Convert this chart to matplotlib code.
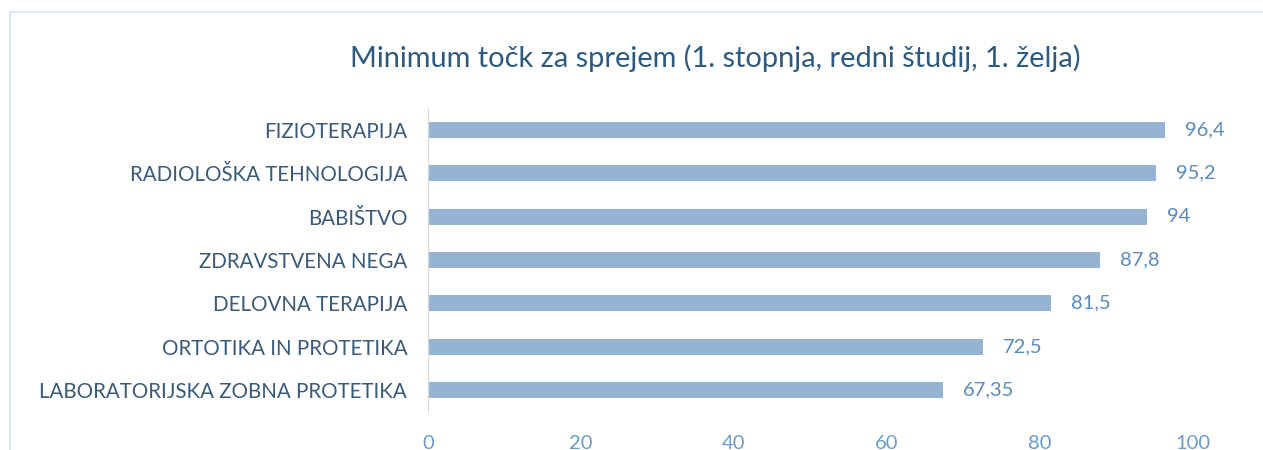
import matplotlib.pyplot as plt
from matplotlib.patches import Rectangle

#-------------------------------------------------------------------------------
# data
programmes = ['FIZIOTERAPIJA', 'RADIOLOŠKA TEHNOLOGIJA', 'BABIŠTVO', 'ZDRAVSTVENA NEGA',
              'DELOVNA TERAPIJA', 'ORTOTIKA IN PROTETIKA', 'LABORATORIJSKA ZOBNA PROTETIKA']
min_points = [96.4, 95.2, 94, 87.8, 81.5, 72.5, 67.35]
value_labels = ['96,4', '95,2', '94', '87,8', '81,5', '72,5', '67,35']
xticks = [0, 20, 40, 60, 80, 100]
title = 'Minimum točk za sprejem (1. stopnja, redni študij, 1. želja)'
#-------------------------------------------------------------------------------
plt.rcParams['font.family'] = ['Lato', 'DejaVu Sans']

fig = plt.figure(figsize=(12.63, 4.5), dpi=100)
# outer chart border (cropped on the right / bottom)
fig.patches.append(Rectangle((10/1263, -0.1), 1.2, 1 - 12/450 + 0.1, transform=fig.transFigure,
                             fill=False, edgecolor='#dce6f0', linewidth=1.5))

ax = fig.add_axes([428/1263, 1 - 411.7/450, (1193 - 428)/1263, (411.7 - 108.3)/450])
ypos = list(range(len(programmes)))[::-1]
ax.barh(ypos, min_points, height=0.37, color='#95b3d2')
for y, v, lab in zip(ypos, min_points, value_labels):
    ax.text(v + 2.6, y, lab, va='center', ha='left', fontsize=14.5, color='#5b8ab8')

ax.set_xlim(0, 100)
ax.set_ylim(-0.5, len(programmes) - 0.5)
ax.set_yticks(ypos)
ax.set_yticklabels(programmes, fontsize=14.8, color='#3a5a78')
ax.set_xticks(xticks)
ax.set_xticklabels([str(t) for t in xticks], fontsize=14.5, color='#6b9bc8')
ax.tick_params(axis='both', length=0)
ax.tick_params(axis='y', pad=15)
ax.tick_params(axis='x', pad=17)
for s in ['top', 'right', 'bottom']:
    ax.spines[s].set_visible(False)
ax.spines['left'].set_color('#d9d9d9')

fig.text(715/1263, 1 - 58/450, title, ha='center', va='center', fontsize=20.9, color='#2e5a80')

plt.savefig('out.png', dpi=100)
